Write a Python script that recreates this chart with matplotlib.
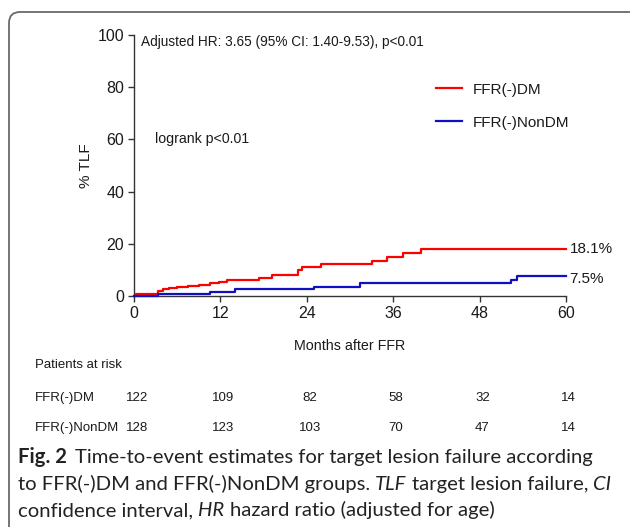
import numpy as np
import matplotlib
matplotlib.use("Agg")
import matplotlib.pyplot as plt
import matplotlib.transforms as mtransforms
from matplotlib.patches import FancyBboxPatch

# curve data (months, % TLF)
dm_t = [0, 0.3, 3.4, 4.0, 4.8, 6.0, 7.5, 9.0, 10.5, 11.8, 12.9, 15.9, 17.3, 19.2, 22.8, 23.3, 26.0, 33.0, 35.1, 37.3, 39.9, 60]
dm_y = [0, 0.8, 1.8, 2.6, 3.2, 3.6, 4.0, 4.4, 4.9, 5.5, 6.0, 6.3, 6.9, 7.9, 10.0, 11.0, 12.2, 13.6, 15.1, 16.5, 18.1, 18.1]
ndm_t = [0, 3.4, 10.6, 14.0, 25.0, 31.4, 52.4, 53.2, 60]
ndm_y = [0, 0.7, 1.7, 2.6, 3.6, 4.8, 6.2, 7.5, 7.5]

xticks = [0, 12, 24, 36, 48, 60]
yticks = [0, 20, 40, 60, 80, 100]
risk_groups = ["FFR(-)DM", "FFR(-)NonDM"]
risk_dm = [122, 109, 82, 58, 32, 14]
risk_ndm = [128, 123, 103, 70, 47, 14]

RED = "#ff0000"
BLUE = "#1010c0"
INK = "#1a1a1a"
CHART_FONT = ["Liberation Sans", "DejaVu Sans"]

plt.rcParams["font.family"] = CHART_FONT

fig = plt.figure(figsize=(6.3, 5.27), dpi=100)
W, H = 630, 527

# rounded frame around the figure (pixels)
frame = FancyBboxPatch((9, -40), 640, H - 12 + 40,
                       boxstyle="round,pad=0,rounding_size=11",
                       transform=mtransforms.IdentityTransform(),
                       fill=False, edgecolor="#6a6a6a", linewidth=1.3)
fig.add_artist(frame)

ax = fig.add_axes([134 / W, 1 - 296 / H, 432 / W, 261 / H])
ax.step(dm_t, dm_y, where="post", color=RED, lw=1.6, clip_on=False, zorder=3, label="FFR(-)DM")
ax.step(ndm_t, ndm_y, where="post", color=BLUE, lw=1.6, clip_on=False, zorder=3, label="FFR(-)NonDM")

ax.set_xlim(0, 60)
ax.set_ylim(0, 100)
ax.set_xticks(xticks)
ax.set_yticks(yticks)
for s in ["top", "right"]:
    ax.spines[s].set_visible(False)
for s in ["left", "bottom"]:
    ax.spines[s].set_color("#333333")
    ax.spines[s].set_linewidth(1.0)
ax.tick_params(direction="out", length=4, width=1.0, color="#333333",
               labelsize=11.5, labelcolor=INK, pad=3)

ax.set_xlabel("Months after FFR", fontsize=10.3, color=INK, labelpad=13)
ax.set_ylabel("% TLF", fontsize=11, color=INK, labelpad=3)

ax.text(1.0, 97.5, "Adjusted HR: 3.65 (95% CI: 1.40-9.53), p<0.01", fontsize=9.8,
        color=INK, va="center", ha="left")
ax.text(2.9, 60, "logrank p<0.01", fontsize=10.2, color=INK, va="center", ha="left")
ax.text(60.5, dm_y[-1], "18.1%", fontsize=11, color=INK, va="center", ha="left")
ax.text(60.5, ndm_y[-1] - 0.8, "7.5%", fontsize=11, color=INK, va="center", ha="left")

ax.legend(loc="upper left", bbox_to_anchor=(0.70, 0.818), frameon=False,
          fontsize=11, handlelength=1.7, handletextpad=0.7, labelspacing=1.25,
          borderpad=0, borderaxespad=0, labelcolor=INK)

# patients at risk table
xt = ax.get_xaxis_transform()
ax.text(-13.8, -0.265, "Patients at risk", transform=xt, fontsize=9.5, color=INK,
        va="center", ha="left", clip_on=False)
for row_y, name, vals in [(-0.392, risk_groups[0], risk_dm), (-0.504, risk_groups[1], risk_ndm)]:
    ax.text(-13.8, row_y, name, transform=xt, fontsize=9.5, color=INK,
            va="center", ha="left", clip_on=False)
    for t, v in zip(xticks, vals):
        ax.text(t + 0.4, row_y, str(v), transform=xt, fontsize=9.5, color=INK,
                va="center", ha="center", clip_on=False)

# caption with mixed styles, pieces chained left to right
CAP = ["Lato", "DejaVu Sans"]
cap_size = 14.6
lines = [
    [("Fig. 2", "bold", "normal"), ("Time-to-event estimates for target lesion failure according", "normal", "normal")],
    [("to FFR(-)DM and FFR(-)NonDM groups.", "normal", "normal"), ("TLF", "normal", "italic"),
     ("target lesion failure,", "normal", "normal"), ("CI", "normal", "italic")],
    [("confidence interval,", "normal", "normal"), ("HR", "normal", "italic"),
     ("hazard ratio (adjusted for age)", "normal", "normal")],
]
baselines = [463, 490, 516]
for parts, base in zip(lines, baselines):
    yf = 1 - base / H
    prev = None
    for i, (txt, weight, style) in enumerate(parts):
        if prev is None:
            prev = fig.text(18 / W, yf, txt, fontsize=cap_size, family=CAP,
                            weight=weight, style=style, color="#222222", va="baseline")
        else:
            gap = 6 if i == 1 and parts[0][1] == "bold" else 3.7
            prev = fig.add_artist(plt.Annotation(
                txt, xy=(1, yf), xycoords=(prev, "figure fraction"),
                xytext=(gap, 0), textcoords="offset points",
                fontsize=cap_size, family=CAP, weight=weight, style=style,
                color="#222222", va="baseline", ha="left"))

fig.savefig("out.png", dpi=100)
